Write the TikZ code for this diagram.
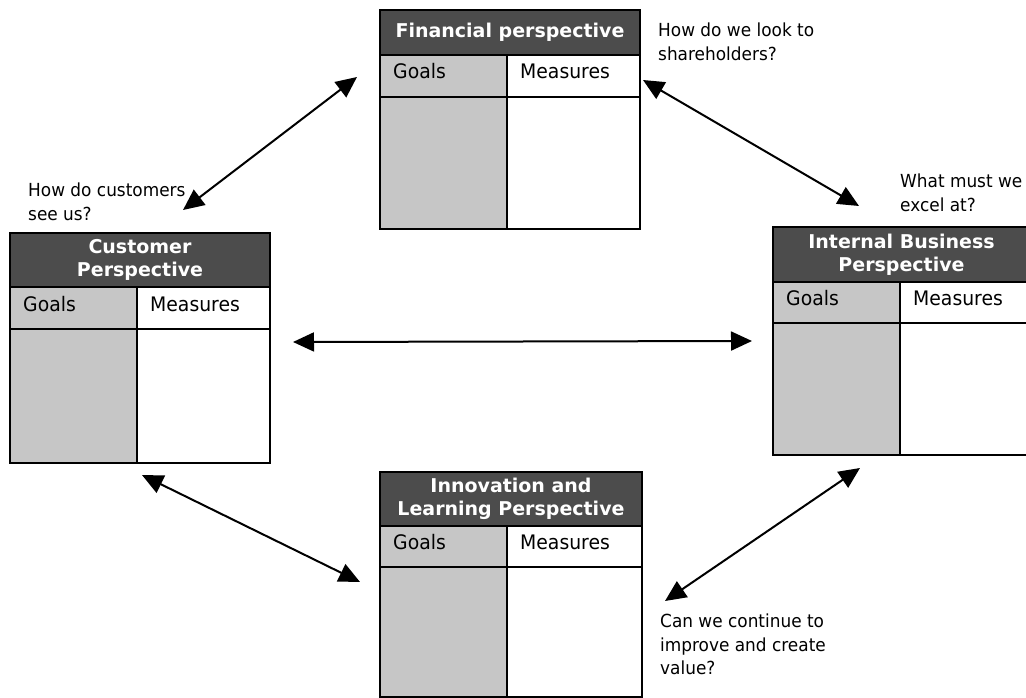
\documentclass[tikz,border=0pt]{standalone}
\usepackage{fontspec}
\setmainfont{DejaVu Sans}[FakeStretch=0.94]
\newfontfamily\headfont{DejaVu Sans}
\usetikzlibrary{arrows.meta}
\definecolor{headgray}{HTML}{4C4C4C}
\definecolor{goalgray}{HTML}{C6C6C6}
\tikzset{
  grid line/.style={draw=black, line width=1.8pt},
  head text/.style={font=\headfont\bfseries\fontsize{19}{23}\selectfont, text=white, align=center, inner sep=0pt},
  cell text/.style={font=\fontsize{20}{23}\selectfont, anchor=base west, inner sep=0pt},
  question/.style={font=\fontsize{18}{23.5}\selectfont, align=left, anchor=north west, inner sep=0pt},
  link/.style={line width=2pt, {Triangle[length=21pt,width=19pt]}-{Triangle[length=21pt,width=19pt]}},
}
% #1 name, #2 left, #3 top, #4 right, #5 header bottom, #6 goals row bottom,
% #7 bottom, #8 column divider, #9 title
\newcommand\perspective[9]{%
  \fill[headgray] (#2,#3) rectangle (#4,#5);
  \fill[goalgray] (#2,#5) rectangle (#8,#7);
  \fill[white] (#8,#5) rectangle (#4,#7);
  \draw[grid line] (#2,#3) rectangle (#4,#7);
  \draw[grid line] (#2,#5) -- (#4,#5) (#2,#6) -- (#4,#6) (#8,#5) -- (#8,#7);
  \node[head text] (#1-title) at ({(#2+#4)/2},{(#3+#5)/2}) {#9};
  \node[cell text] (#1-goals) at ({#2+13},{#6-18}) {Goals};
  \node[cell text] (#1-measures) at ({#8+13},{#6-18}) {Measures};
}
\begin{document}
\begin{tikzpicture}[x=1pt,y=-1pt]
  \useasboundingbox (0,0) rectangle (1026,698);
  \clip (0,0) rectangle (1026,698);
  \fill[white] (0,0) rectangle (1026,698);

  % the four perspectives
  \perspective{fin}{380}{10}{640}{55}{97}{229}{507}{Financial perspective}
  \perspective{cus}{10}{233}{270}{287}{329}{463}{137}{Customer\\Perspective}
  \perspective{int}{773}{227}{1030}{282}{323}{455}{900}{Internal Business\\Perspective}
  \perspective{inn}{380}{472}{642}{526}{567}{697}{507}{Innovation and\\Learning Perspective}

  % questions
  \node[question] (q-fin) at (658,23) {How do we look to\\shareholders?};
  \node[question] (q-cus) at (28,183) {How do customers\\see us?};
  \node[question] (q-int) at (900,174) {What must we\\excel at?};
  \node[question] (q-inn) at (660,614) {Can we continue to\\improve and create\\value?};

  % arrow ends
  \coordinate (fc-a) at (357,77);
  \coordinate (fc-b) at (183,210);
  \coordinate (fi-a) at (643,80);
  \coordinate (fi-b) at (859,206);
  \coordinate (ci-a) at (293,342);
  \coordinate (ci-b) at (752,341);
  \coordinate (cn-a) at (142,475);
  \coordinate (cn-b) at (360,582);
  \coordinate (in-a) at (860,468);
  \coordinate (in-b) at (665,601);

  \draw[link] (fc-a) -- (fc-b);
  \draw[link] (fi-a) -- (fi-b);
  \draw[link] (ci-a) -- (ci-b);
  \draw[link] (cn-a) -- (cn-b);
  \draw[link] (in-a) -- (in-b);
\end{tikzpicture}
\end{document}
